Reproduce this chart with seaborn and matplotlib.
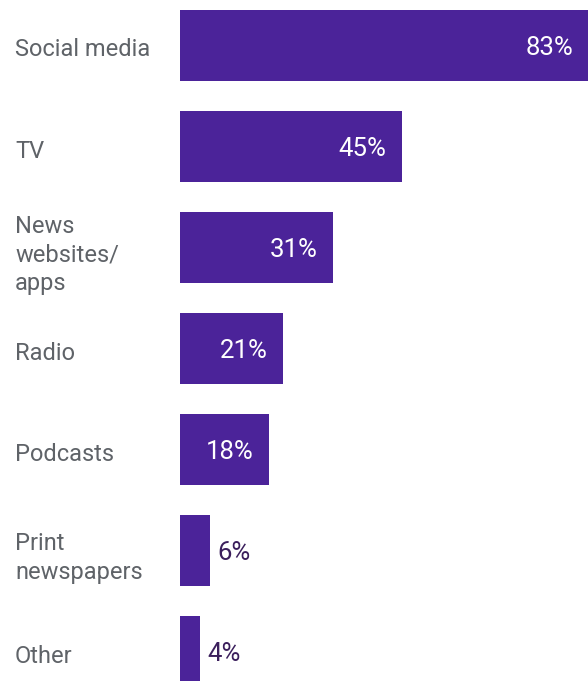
import pandas as pd
import matplotlib
matplotlib.use("Agg")
import matplotlib.pyplot as plt
import matplotlib.transforms as mtransforms
import seaborn as sns

# Data
categories = ["Social media", "TV", "News\nwebsites/\napps", "Radio",
              "Podcasts", "Print\nnewspapers", "Other"]
values = [83, 45, 31, 21, 18, 6, 4]

df = pd.DataFrame({"source": categories, "share": values})

sns.set_style("white")
plt.rcParams["font.family"] = ["Roboto", "DejaVu Sans"]

bar_color = "#4b2399"
fig = plt.figure(figsize=(5.88, 6.81), dpi=100)
ax = fig.add_axes([180 / 588, 0, 408 / 588, 1])

sns.barplot(data=df, x="share", y="source", orient="h", color=bar_color,
            saturation=1, width=0.703, linewidth=0, ax=ax)

ax.set_xlim(0, 82.8)
ax.set_ylim(6.29, -0.45)
ax.set_xlabel("")
ax.set_ylabel("")
ax.set_xticks([])
sns.despine(ax=ax, left=True, bottom=True)

# Category labels, left aligned at the figure edge, nudged down a touch
ax.tick_params(axis="y", length=0, pad=118.8, labelsize=17, labelcolor="#5f6368")
shift = mtransforms.ScaledTranslation(0, -2 / 100, fig.dpi_scale_trans)
for lbl in ax.get_yticklabels():
    lbl.set_horizontalalignment("left")
    lbl.set_linespacing(1.32)
    lbl.set_transform(lbl.get_transform() + shift)

# Value labels: inside for wide bars, outside for narrow ones
for i, v in enumerate(values):
    if v >= 10:
        ax.annotate(f"{v}%", xy=(v, i), xytext=(-11, -2), textcoords="offset points",
                    ha="right", va="center", color="white", fontsize=18.5,
                    annotation_clip=False)
    else:
        ax.annotate(f"{v}%", xy=(v, i), xytext=(5.5, -2), textcoords="offset points",
                    ha="left", va="center", color="#3b1f5c", fontsize=18.5,
                    annotation_clip=False)

fig.savefig("out.png", dpi=100)
